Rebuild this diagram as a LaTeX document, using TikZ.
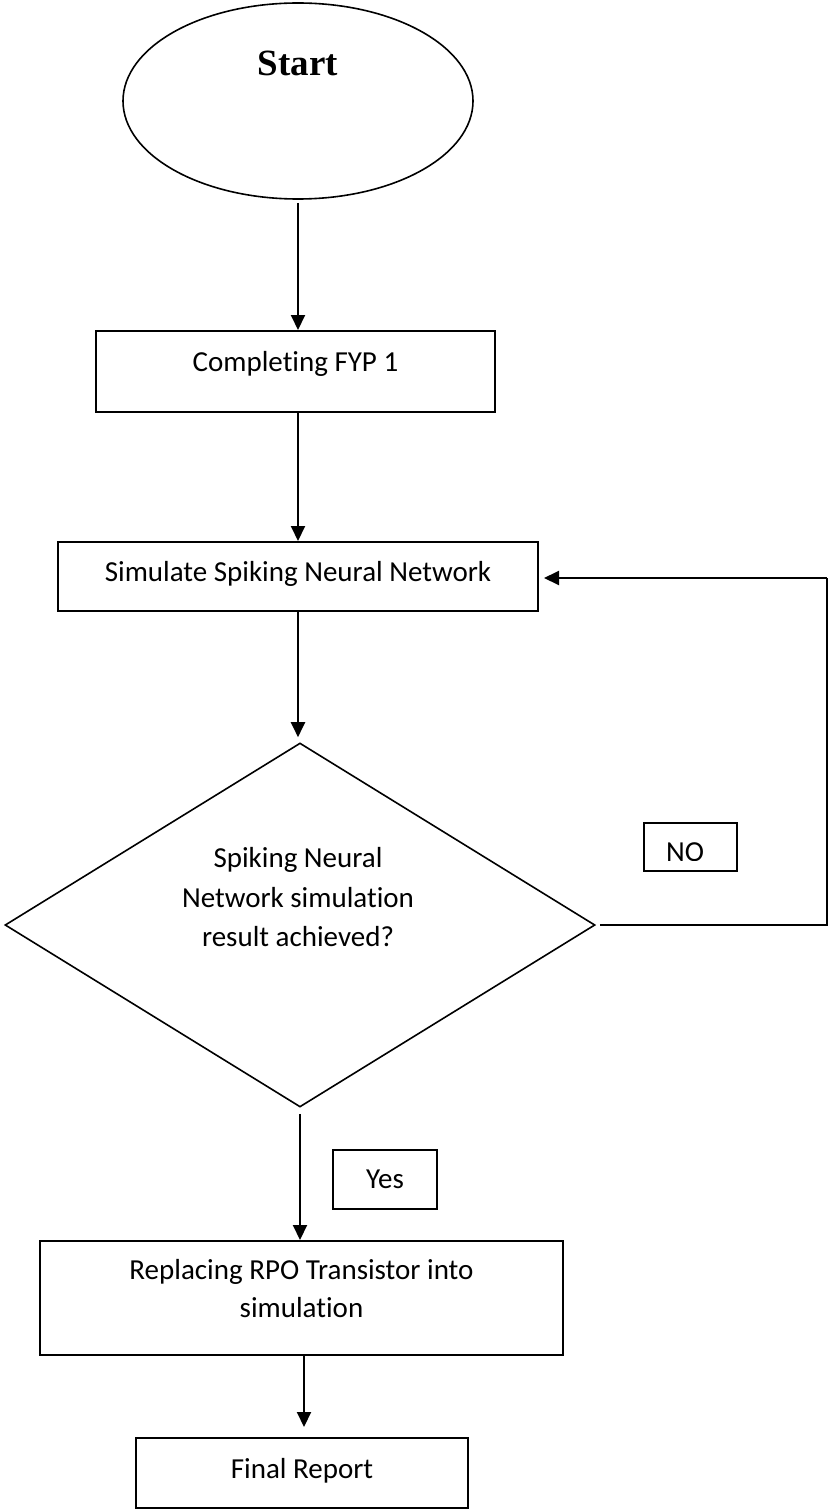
\documentclass[tikz,border=0pt]{standalone}
\usepackage{fontspec}
\setmainfont[Ligatures=NoCommon]{Carlito}
\newfontfamily\startfont{Liberation Serif}
\usepackage{tikz}
\usetikzlibrary{shapes.geometric,arrows.meta}
\definecolor{ln}{RGB}{0,0,0}
\def\lw{2pt}
\def\boxfont{\fontsize{29}{38}\selectfont}
\tikzset{flow/.style={line width=\lw,color=ln,-{Triangle[length=15pt,width=14pt]}},
	thinline/.style={line width=1.2pt,color=ln}}
\newcommand{\flowbox}[7]{\node[minimum width=#4,minimum height=#5,draw,rectangle,line width=\lw,color=ln,inner sep=0pt] (#3) at (#1,#2) {};
	\node[inner sep=0pt,align=center,font=\boxfont] (#3txt) at ([yshift=#7]#3.center) {#6}; }

\begin{document}
\begin{tikzpicture}[x=1pt,y=-1pt]
\useasboundingbox (0,0) rectangle (828,1511);
\node[ellipse,draw,line width=1.6pt,color=ln,minimum width=350,minimum height=196,inner sep=0pt] (start) at (298,101) {};
\node[inner sep=0pt,font=\startfont\bfseries\fontsize{37}{44}\selectfont] (starttxt) at ([yshift=38pt]start.center) {Start};
\flowbox{295.5}{371.5}{fyp}{399}{81}{Completing FYP 1}{7.5pt}
\flowbox{298}{576.5}{sim}{480}{69}{Simulate Spiking Neural Network}{2.5pt}
\node[diamond,draw,line width=1.6pt,color=ln,minimum width=590,minimum height=364,inner sep=0pt] (dec) at (300,925) {};
\node[inner sep=0pt,align=center,font=\fontsize{29}{39.5}\selectfont] (dectxt) at ([xshift=-2pt,yshift=27.5pt]dec.center) {Spiking Neural\\Network simulation\\result achieved?};
\flowbox{385}{1179.5}{yes}{104}{59}{Yes}{0pt}
\flowbox{301.5}{1298}{rpo}{523}{114}{Replacing RPO Transistor into\\simulation}{9pt}
\flowbox{302}{1473}{fin}{332}{70}{Final Report}{2pt}
\node[minimum width=93,minimum height=48,draw,rectangle,line width=\lw,color=ln,inner sep=0pt] (no) at (690.5,847) {};
\begin{scope}
\clip (640,820) rectangle (740,860);
\node[inner sep=0pt,font=\boxfont] (notxt) at ([xshift=-5.5pt,yshift=-5.6pt]no.center) {NO};
\end{scope}
\coordinate (back) at (827,578);

\draw[flow] ([yshift=-3pt]start.south) -- (start.south |- fyp.north);
\draw[flow] (sim.north |- fyp.south) -- (sim.north);
\draw[flow] (sim.south) -- ([yshift=5pt]sim.south |- dec.north);
\draw[flow] ([yshift=-6pt]dec.south) -- (dec.south |- rpo.north);
\draw[flow] ([xshift=2.5pt]rpo.south) -- ([xshift=2.5pt,yshift=10pt]rpo.south |- fin.north);
\draw[thinline] ([xshift=4pt]dec.east) -| (back);
\draw[flow] (back) -- ([xshift=5pt]back -| sim.east);
\end{tikzpicture}
\end{document}
